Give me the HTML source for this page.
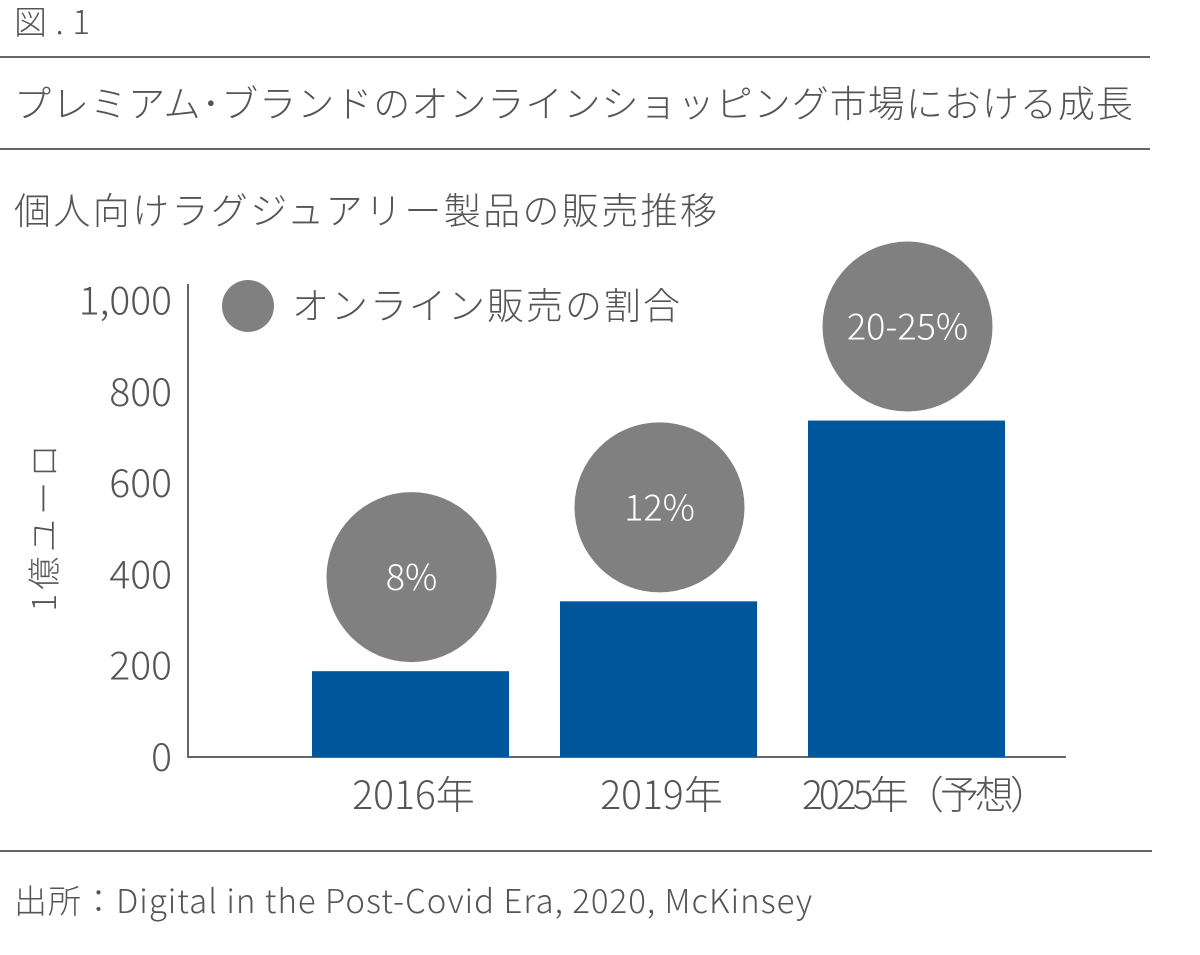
<!DOCTYPE html>
<html><head><meta charset="utf-8">
<style>
body{margin:0;background:#fff;width:1200px;height:950px;overflow:hidden;font-family:"Noto Sans CJK JP","Liberation Sans",sans-serif;color:#555;}
svg text{font-family:"Noto Sans CJK JP","Liberation Sans",sans-serif;font-weight:300;}
</style></head>
<body>
<svg width="1200" height="950">
<text x="14" y="34" font-size="33" fill="#555" textLength="76">図.1</text>
<line x1="0" y1="57" x2="1150" y2="57" stroke="#666" stroke-width="2"/>
<text x="14" y="117" font-size="37" fill="#555" textLength="1119">プレミアム･ブランドのオンラインショッピング市場における成長</text>
<line x1="0" y1="149" x2="1150" y2="149" stroke="#666" stroke-width="2"/>
<text x="14" y="224" font-size="37" fill="#555" textLength="703">個人向けラグジュアリー製品の販売推移</text>
<text transform="translate(56,528) rotate(-90)" text-anchor="middle" font-size="33" fill="#555" textLength="167">1億ユーロ</text>
<circle cx="248" cy="306" r="26" fill="#808080"/>
<text x="292" y="319" font-size="37" fill="#555" textLength="388">オンライン販売の割合</text>
<g id="plot"></g>
<line x1="0" y1="851" x2="1152" y2="851" stroke="#666" stroke-width="2"/>
<text x="14" y="913" font-size="33" fill="#555" textLength="798">出所：Digital in the Post-Covid Era, 2020, McKinsey</text>
</svg>
<script>
const categories=["2016年","2019年","2025年（予想）"];
const values=[188,341,737];
const shares=["8%","12%","20-25%"];
const yTicks=[0,200,400,600,800,1000];
const tickLabels=["0","200","400","600","800","1,000"];
const NS="http://www.w3.org/2000/svg";
const g=document.getElementById("plot");
const y0=757,pxPer=0.4565;
function yScale(v){return y0-v*pxPer;}
function xScale(i){return 312+i*248;}
const bw=197;
function mk(t,a){const e=document.createElementNS(NS,t);for(const k in a)e.setAttribute(k,a[k]);g.appendChild(e);return e;}
yTicks.forEach((v,i)=>{
 const t=mk("text",{x:172,y:yScale(v)+14,"text-anchor":"end","font-size":"39",fill:"#555"});
 t.textContent=tickLabels[i];
 
 
});
const ax=mk("line",{x1:188,y1:284,x2:188,y2:y0,stroke:"#666","stroke-width":2});


const bx=mk("line",{x1:187,y1:y0,x2:1066,y2:y0,stroke:"#666","stroke-width":2});


values.forEach((v,i)=>{
 const x=xScale(i),top=yScale(v);
 const r=mk("rect",{x:x,y:top,width:bw,height:y0-top,fill:"#00569b"});
 
 
 const c=mk("circle",{cx:x+bw/2+1,cy:top-94,r:85,fill:"#808080"});
 
 
 const st=mk("text",{x:x+bw/2+1,y:top-81,"text-anchor":"middle","font-size":"36",fill:"#fff"});
 st.textContent=shares[i];
 
 
 const long=categories[i].length>6;
 const attrs={x:x+bw/2+3+(long?16:0),y:809,"text-anchor":"middle","font-size":"39",fill:"#555"};
 if(long)attrs.textLength=247;
 const ct=mk("text",attrs);
 ct.textContent=categories[i];
 
 
});
</script>
</body></html>
